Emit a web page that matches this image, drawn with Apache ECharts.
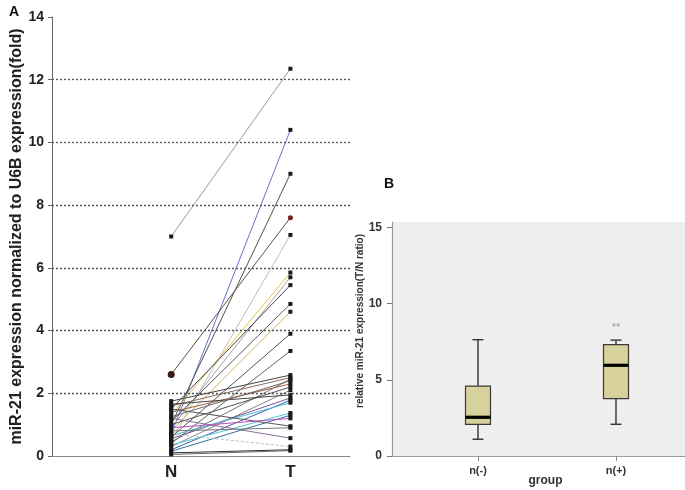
<!DOCTYPE html>
<html>
<head>
<meta charset="utf-8">
<script src="https://cdn.jsdelivr.net/npm/echarts@6/dist/echarts.min.js"></script>
<style>html,body{margin:0;padding:0;background:#fff}#c{width:685px;height:490px}</style>
</head>
<body>
<div id="c"></div>
<script>
// ---------- Panel A data ----------
var pairLabels = ['', 'N', 'T'];
var nValues = [7.0, 0.7, 1.0, 2.6, 0.5, 1.3, 0.9, 1.5, 1.1, 0.8, 0.6, 0.4, 1.75, 1.6, 0.45, 1.4, 1.0, 0.3, 0.55, 0.2, 0.65, 0.35, 0.15, 1.5, 0.8, 1.2, 0.7, 0.1, 0.05, 0.9, 1.65, 1.25];
var tValues = [12.35, 10.4, 9.0, 7.6, 7.05, 5.85, 5.7, 5.45, 4.85, 4.6, 3.9, 3.35, 2.58, 2.5, 2.45, 2.3, 2.2, 2.1, 1.85, 1.78, 1.7, 1.37, 1.3, 0.95, 0.9, 0.57, 0.3, 0.2, 0.17, 1.2, 1.95, 2.4];
var gridValues = [2, 4, 6, 8, 10, 12];

// ---------- Panel B data ----------
var groupLabels = ['n(-)', 'n(+)'];
var boxLow = [1.1, 2.08];
var boxQ1 = [2.08, 3.77];
var boxMedian = [2.54, 5.95];
var boxQ3 = [4.58, 7.31];
var boxHigh = [7.63, 7.6];
var starLabel = ['', '**'];
var starValue = [null, 8.4];

// styles
var lineColors = ['#9a9a9a', '#6474c4', '#505050', '#6b4a40', '#bdbdbd', '#e2c444', '#a4a4a4', '#444444', '#585858', '#d8b860', '#555555', '#666666', '#444444', '#8a6a5a', '#777777', '#a06040', '#555555', '#888888', '#8050a0', '#4060b0', '#44c0d0', '#55c8d8', '#3070a0', '#555555', '#777777', '#8a7090', '#b0c0d0', '#333333', '#666666', '#c050c0', '#444444', '#6a6a6a'];

var font = "'Liberation Sans', Arial, sans-serif";

var series = [];
nValues.forEach(function (n, i) {
  var s = {
    type: 'line',
    xAxisIndex: 0, yAxisIndex: 0,
    data: [[1, n], [2, tValues[i]]],
    symbol: 'rect',
    symbolSize: 4,
    silent: true,
    animation: false,
    itemStyle: { color: '#1a1a1a' },
    lineStyle: { color: lineColors[i], width: 1, type: i === 26 ? [3, 2] : 'solid' },
    z: 3
  };
  if (i === 3) {
    s.data = [
      { value: [1, n], symbol: 'circle', symbolSize: 7, itemStyle: { color: '#3a1a16' } },
      { value: [2, tValues[i]], symbol: 'circle', symbolSize: 5, itemStyle: { color: '#7a1a1a' } }
    ];
  }
  if (i === 0) {
    s.markLine = {
      silent: true, symbol: 'none', label: { show: false },
      lineStyle: { color: '#555', width: 1.3, type: [2, 2] },
      data: gridValues.map(function (v) { return { yAxis: v }; })
    };
  }
  series.push(s);
});

// background dummy series so the background grid has data
series.push({
  type: 'line', xAxisIndex: 1, yAxisIndex: 1, data: [], silent: true
});

var boxData = groupLabels.map(function (g, i) {
  return [i, boxLow[i], boxQ1[i], boxMedian[i], boxQ3[i], boxHigh[i]];
});

series.push({
  type: 'custom',
  xAxisIndex: 2, yAxisIndex: 2,
  silent: true,
  animation: false,
  data: boxData,
  encode: { x: 0, y: [1, 2, 3, 4, 5] },
  renderItem: function (params, api) {
    var x = api.value(0);
    var low = api.coord([x, api.value(1)]);
    var q1 = api.coord([x, api.value(2)]);
    var med = api.coord([x, api.value(3)]);
    var q3 = api.coord([x, api.value(4)]);
    var high = api.coord([x, api.value(5)]);
    var cx = low[0], bw = 25, cw = 11;
    var st = { stroke: '#333', lineWidth: 1.4 };
    return {
      type: 'group',
      children: [
        { type: 'line', shape: { x1: cx, y1: high[1], x2: cx, y2: q3[1] }, style: st },
        { type: 'line', shape: { x1: cx, y1: q1[1], x2: cx, y2: low[1] }, style: st },
        { type: 'line', shape: { x1: cx - cw / 2, y1: high[1], x2: cx + cw / 2, y2: high[1] }, style: st },
        { type: 'line', shape: { x1: cx - cw / 2, y1: low[1], x2: cx + cw / 2, y2: low[1] }, style: st },
        { type: 'rect', shape: { x: cx - bw / 2, y: q3[1], width: bw, height: q1[1] - q3[1] }, style: { fill: '#d7d19c', stroke: '#3a3a3a', lineWidth: 1.2 } },
        { type: 'line', shape: { x1: cx - bw / 2, y1: med[1], x2: cx + bw / 2, y2: med[1] }, style: { stroke: '#000', lineWidth: 3.2 } }
      ]
    };
  }
});

series.push({
  type: 'scatter',
  xAxisIndex: 2, yAxisIndex: 2,
  silent: true,
  symbolSize: 1,
  itemStyle: { color: 'rgba(0,0,0,0)' },
  data: starValue.map(function (v, i) { return v === null ? null : { value: [i, v], name: starLabel[i] }; }).filter(function (d) { return d; }),
  label: { show: true, position: 'inside', formatter: function (p) { return p.name; }, color: '#8a8a8a', fontSize: 11, fontFamily: font }
});

var option = {
  animation: false,
  backgroundColor: '#fff',
  textStyle: { fontFamily: font },
  title: [
    { text: 'A', left: 4, top: 0, textStyle: { fontSize: 14, fontWeight: 'bold', color: '#111', fontFamily: font } },
    { text: 'B', left: 379, top: 172, textStyle: { fontSize: 14, fontWeight: 'bold', color: '#111', fontFamily: font } }
  ],
  grid: [
    { left: 52, top: 17, width: 298, bottom: 34 },
    { left: 392, top: 222, right: 0, bottom: 34, show: true, backgroundColor: '#efefef', borderWidth: 0 },
    { left: 409, top: 222, width: 308, bottom: 34 }
  ],
  xAxis: [
    {
      gridIndex: 0, type: 'value', min: 0, max: 2.5, interval: 1,
      axisLine: { lineStyle: { color: '#8a8a8a', width: 1.2 } },
      axisTick: { show: false }, splitLine: { show: false },
      axisLabel: { formatter: function (v) { return pairLabels[v] || ''; }, fontSize: 17, fontWeight: 'bold', color: '#222', margin: 8, fontFamily: font }
    },
    {
      gridIndex: 1, type: 'value', min: 0, max: 1,
      axisLine: { lineStyle: { color: '#9a9a9a', width: 1.2 } },
      axisTick: { show: false }, axisLabel: { show: false }, splitLine: { show: false },
      name: 'group', nameLocation: 'middle', nameGap: 19,
      nameTextStyle: { fontSize: 12, fontWeight: 'bold', color: '#333', fontFamily: font, padding: [0, 0, 0, 14] }
    },
    {
      gridIndex: 2, type: 'category', data: groupLabels, boundaryGap: true,
      axisLine: { show: false },
      axisTick: { show: true, alignWithLabel: true, length: 5, lineStyle: { color: '#888' } },
      axisLabel: { fontSize: 11, fontWeight: 'bold', color: '#333', margin: 9, fontFamily: font },
      splitLine: { show: false }
    }
  ],
  yAxis: [
    {
      gridIndex: 0, type: 'value', min: 0, max: 14, interval: 2,
      axisLine: { show: true, lineStyle: { color: '#666', width: 1 } },
      axisTick: { show: true, length: 4, lineStyle: { color: '#666' } },
      splitLine: { show: false },
      axisLabel: { fontSize: 14, fontWeight: 'bold', color: '#222', margin: 8, fontFamily: font },
      name: 'miR-21 expression normalized to U6B expression(fold)', nameLocation: 'middle', nameGap: 23,
      nameTextStyle: { fontSize: 16, fontWeight: 'bold', color: '#222', fontFamily: font }
    },
    {
      gridIndex: 1, type: 'value', min: 0, max: 1, show: false
    },
    {
      gridIndex: 2, type: 'value', min: 0, max: 15.35, interval: 5, offset: 17,
      axisLine: { show: true, lineStyle: { color: '#9a9a9a', width: 1.2 } },
      axisTick: { show: true, length: 5, lineStyle: { color: '#777' } },
      splitLine: { show: false },
      axisLabel: { fontSize: 12, fontWeight: 'bold', color: '#333', margin: 10, fontFamily: font },
      name: 'relative miR-21 expression(T/N ratio)', nameLocation: 'middle', nameGap: 26,
      nameTextStyle: { fontSize: 10, fontWeight: 'bold', color: '#333', fontFamily: font, padding: [0, 0, 0, 36] }
    }
  ],
  series: series
};

var chart = echarts.init(document.getElementById('c'), null, { renderer: 'canvas' });
chart.setOption(option);
</script>
</body>
</html>
